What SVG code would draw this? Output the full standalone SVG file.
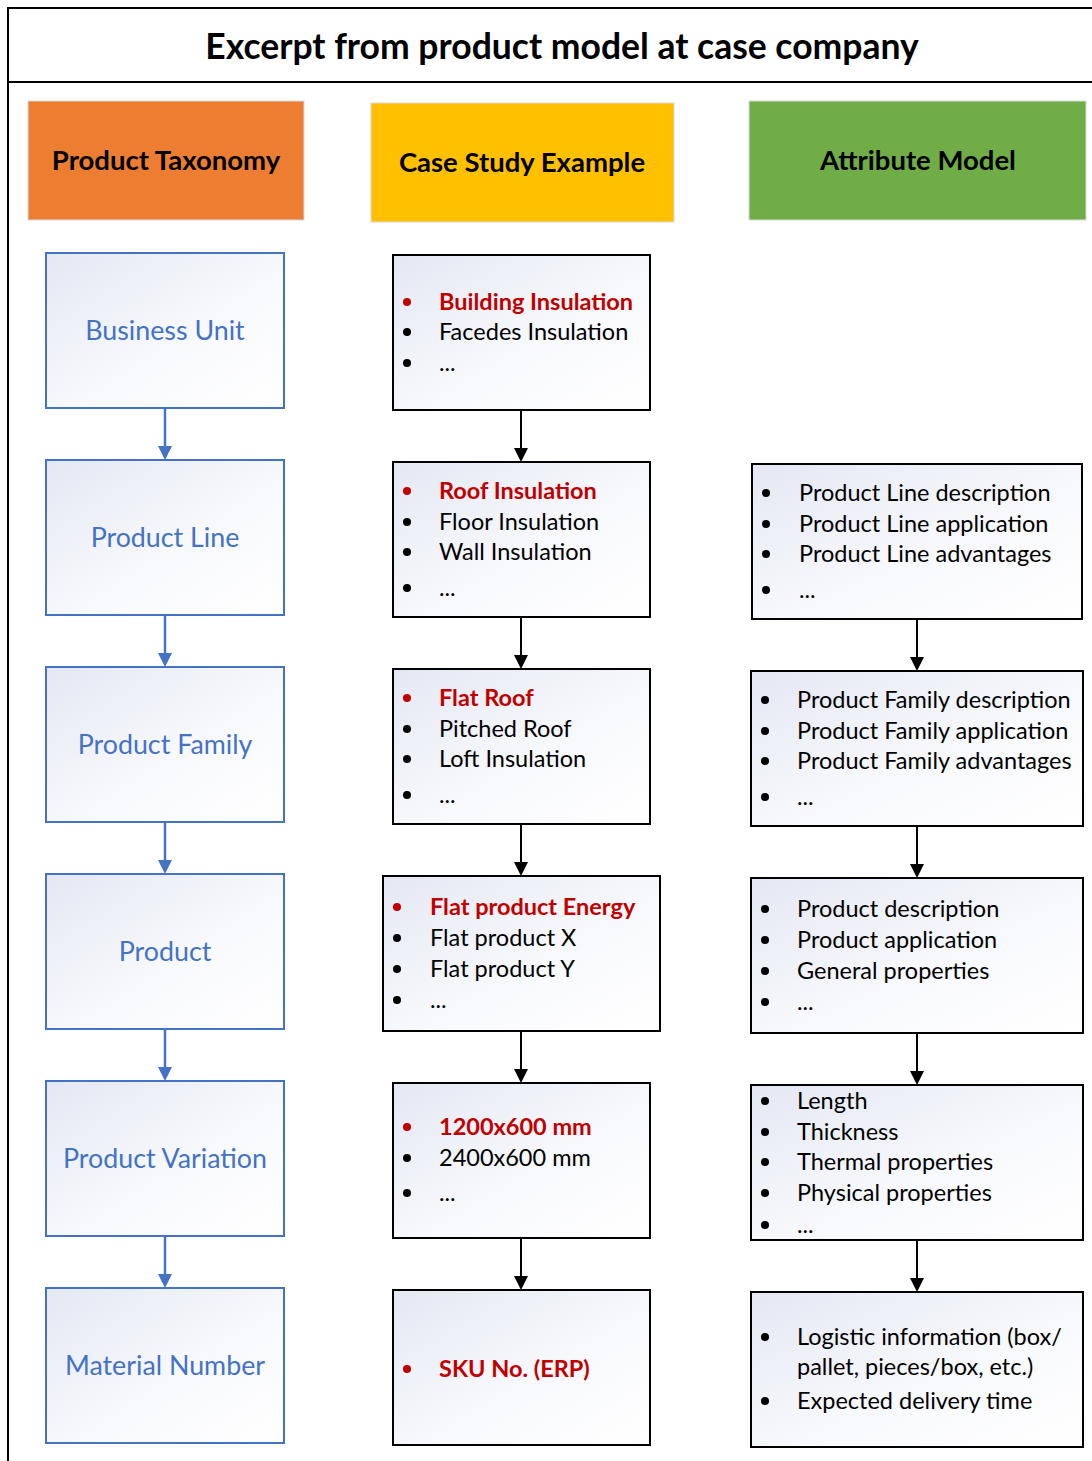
<svg xmlns="http://www.w3.org/2000/svg" width="1092" height="1461" viewBox="0 0 1092 1461">
<defs>
<linearGradient id="g" x1="0" y1="0" x2="1" y2="1">
<stop offset="0" stop-color="#E4E8F3"/>
<stop offset="0.6" stop-color="#F9FAFD"/>
<stop offset="1" stop-color="#FFFFFF"/>
</linearGradient>
</defs>
<style>
text{font-family:Lato,"Open Sans","Liberation Sans",sans-serif}
.title{font-size:35.5px;font-weight:bold;text-anchor:middle;fill:#000}
.hd{font-size:27.5px;font-weight:bold;text-anchor:middle;fill:#000}
.lbox{fill:url(#g);stroke:#4472C4;stroke-width:2}
.ltxt{font-size:26.8px;fill:#4472C4;text-anchor:middle}
.box{fill:url(#g);stroke:#000;stroke-width:2}
.t{font-size:23.5px;fill:#000}
.r{font-size:23.5px;fill:#C00000;font-weight:bold}
.b{fill:#000}
.br{fill:#C00000}
.bl{stroke:#4472C4;stroke-width:2.5}
.bk{stroke:#000;stroke-width:2}
.ahb{fill:#4472C4}
.ahk{fill:#000}
</style>
<rect x="0" y="0" width="1092" height="1461" fill="#fff"/>
<g id="frame">
<path d="M8 1461 V8 H1092" fill="none" stroke="#000" stroke-width="2"/>
<line x1="8" y1="82" x2="1092" y2="82" stroke="#000" stroke-width="2"/>
<text class="title" x="562" y="59">Excerpt from product model at case company</text>
</g>
<g id="hdr-taxonomy"><rect x="28" y="101" width="276" height="119" fill="#ED7D31" stroke="#D9D9D9" stroke-width="1"/><text class="hd" x="166" y="170">Product Taxonomy</text></g>
<g id="hdr-case"><rect x="371" y="103" width="303" height="119" fill="#FFC000" stroke="#D9D9D9" stroke-width="1"/><text class="hd" x="522" y="172">Case Study Example</text></g>
<g id="hdr-attr"><rect x="749" y="101" width="337" height="119" fill="#70AD47" stroke="#D9D9D9" stroke-width="1"/><text class="hd" x="918" y="170">Attribute Model</text></g>

<g id="n-bu"><rect class="lbox" x="46" y="253" width="238" height="155"/><text class="ltxt" x="165" y="340">Business Unit</text></g>
<g id="n-pl"><rect class="lbox" x="46" y="460" width="238" height="155"/><text class="ltxt" x="165" y="547">Product Line</text></g>
<g id="n-pf"><rect class="lbox" x="46" y="667" width="238" height="155"/><text class="ltxt" x="165" y="754">Product Family</text></g>
<g id="n-p"><rect class="lbox" x="46" y="874" width="238" height="155"/><text class="ltxt" x="165" y="961">Product</text></g>
<g id="n-pv"><rect class="lbox" x="46" y="1081" width="238" height="155"/><text class="ltxt" x="165" y="1168">Product Variation</text></g>
<g id="n-mn"><rect class="lbox" x="46" y="1288" width="238" height="155"/><text class="ltxt" x="165" y="1375">Material Number</text></g>

<g id="c1"><rect class="box" x="393" y="255" width="257" height="155"/>
<circle class="br" cx="407" cy="302" r="4"/><text class="r" x="439" y="310">Building Insulation</text>
<circle class="b" cx="407" cy="332" r="4"/><text class="t" x="439" y="340">Facedes Insulation</text>
<circle class="b" cx="407" cy="363" r="4"/><text class="t" x="439" y="371">...</text></g>
<g id="c2"><rect class="box" x="393" y="462" width="257" height="155"/>
<circle class="br" cx="407" cy="491" r="4"/><text class="r" x="439" y="499">Roof Insulation</text>
<circle class="b" cx="407" cy="522" r="4"/><text class="t" x="439" y="530">Floor Insulation</text>
<circle class="b" cx="407" cy="552" r="4"/><text class="t" x="439" y="560">Wall Insulation</text>
<circle class="b" cx="407" cy="588" r="4"/><text class="t" x="439" y="596">...</text></g>
<g id="c3"><rect class="box" x="393" y="669" width="257" height="155"/>
<circle class="br" cx="407" cy="698" r="4"/><text class="r" x="439" y="706">Flat Roof</text>
<circle class="b" cx="407" cy="729" r="4"/><text class="t" x="439" y="737">Pitched Roof</text>
<circle class="b" cx="407" cy="759" r="4"/><text class="t" x="439" y="767">Loft Insulation</text>
<circle class="b" cx="407" cy="795" r="4"/><text class="t" x="439" y="803">...</text></g>
<g id="c4"><rect class="box" x="383" y="876" width="277" height="155"/>
<circle class="br" cx="397" cy="907" r="4"/><text class="r" x="430" y="915">Flat product Energy</text>
<circle class="b" cx="397" cy="938" r="4"/><text class="t" x="430" y="946">Flat product X</text>
<circle class="b" cx="397" cy="969" r="4"/><text class="t" x="430" y="977">Flat product Y</text>
<circle class="b" cx="397" cy="1000" r="4"/><text class="t" x="430" y="1008">...</text></g>
<g id="c5"><rect class="box" x="393" y="1083" width="257" height="155"/>
<circle class="br" cx="407" cy="1127" r="4"/><text class="r" x="439" y="1135">1200x600 mm</text>
<circle class="b" cx="407" cy="1158" r="4"/><text class="t" x="439" y="1166">2400x600 mm</text>
<circle class="b" cx="407" cy="1193" r="4"/><text class="t" x="439" y="1201">...</text></g>
<g id="c6"><rect class="box" x="393" y="1290" width="257" height="155"/>
<circle class="br" cx="407" cy="1369" r="4"/><text class="r" x="439" y="1377">SKU No. (ERP)</text></g>

<g id="a1"><rect class="box" x="752" y="464" width="330" height="155"/>
<circle class="b" cx="766" cy="493" r="4"/><text class="t" x="799" y="501">Product Line description</text>
<circle class="b" cx="766" cy="524" r="4"/><text class="t" x="799" y="532">Product Line application</text>
<circle class="b" cx="766" cy="554" r="4"/><text class="t" x="799" y="562">Product Line advantages</text>
<circle class="b" cx="766" cy="590" r="4"/><text class="t" x="799" y="598">...</text></g>
<g id="a2"><rect class="box" x="751" y="671" width="332" height="155"/>
<circle class="b" cx="765" cy="700" r="4"/><text class="t" x="797" y="708">Product Family description</text>
<circle class="b" cx="765" cy="731" r="4"/><text class="t" x="797" y="739">Product Family application</text>
<circle class="b" cx="765" cy="761" r="4"/><text class="t" x="797" y="769">Product Family advantages</text>
<circle class="b" cx="765" cy="797" r="4"/><text class="t" x="797" y="805">...</text></g>
<g id="a3"><rect class="box" x="751" y="878" width="332" height="155"/>
<circle class="b" cx="765" cy="909" r="4"/><text class="t" x="797" y="917">Product description</text>
<circle class="b" cx="765" cy="940" r="4"/><text class="t" x="797" y="948">Product application</text>
<circle class="b" cx="765" cy="971" r="4"/><text class="t" x="797" y="979">General properties</text>
<circle class="b" cx="765" cy="1002" r="4"/><text class="t" x="797" y="1010">...</text></g>
<g id="a4"><rect class="box" x="751" y="1085" width="332" height="155"/>
<circle class="b" cx="765" cy="1101" r="4"/><text class="t" x="797" y="1109">Length</text>
<circle class="b" cx="765" cy="1132" r="4"/><text class="t" x="797" y="1140">Thickness</text>
<circle class="b" cx="765" cy="1162" r="4"/><text class="t" x="797" y="1170">Thermal properties</text>
<circle class="b" cx="765" cy="1193" r="4"/><text class="t" x="797" y="1201">Physical properties</text>
<circle class="b" cx="765" cy="1225" r="4"/><text class="t" x="797" y="1233">...</text></g>
<g id="a5"><rect class="box" x="751" y="1292" width="332" height="155"/>
<circle class="b" cx="765" cy="1337" r="4"/><text class="t" x="797" y="1345">Logistic information (box/</text>
<text class="t" x="797" y="1375">pallet, pieces/box, etc.)</text>
<circle class="b" cx="765" cy="1401" r="4"/><text class="t" x="797" y="1409">Expected delivery time</text></g>

<g id="connectors">
<line class="bl" x1="165" y1="408" x2="165" y2="447"/><path class="ahb" d="M158 446 L172 446 L165 460 Z"/>
<line class="bl" x1="165" y1="615" x2="165" y2="654"/><path class="ahb" d="M158 653 L172 653 L165 667 Z"/>
<line class="bl" x1="165" y1="822" x2="165" y2="861"/><path class="ahb" d="M158 860 L172 860 L165 874 Z"/>
<line class="bl" x1="165" y1="1029" x2="165" y2="1068"/><path class="ahb" d="M158 1067 L172 1067 L165 1081 Z"/>
<line class="bl" x1="165" y1="1236" x2="165" y2="1275"/><path class="ahb" d="M158 1274 L172 1274 L165 1288 Z"/>

<line class="bk" x1="521" y1="410" x2="521" y2="449"/><path class="ahk" d="M514 448 L528 448 L521 462 Z"/>
<line class="bk" x1="521" y1="617" x2="521" y2="656"/><path class="ahk" d="M514 655 L528 655 L521 669 Z"/>
<line class="bk" x1="521" y1="824" x2="521" y2="863"/><path class="ahk" d="M514 862 L528 862 L521 876 Z"/>
<line class="bk" x1="521" y1="1031" x2="521" y2="1070"/><path class="ahk" d="M514 1069 L528 1069 L521 1083 Z"/>
<line class="bk" x1="521" y1="1238" x2="521" y2="1277"/><path class="ahk" d="M514 1276 L528 1276 L521 1290 Z"/>

<line class="bk" x1="917" y1="619" x2="917" y2="658"/><path class="ahk" d="M910 657 L924 657 L917 671 Z"/>
<line class="bk" x1="917" y1="826" x2="917" y2="865"/><path class="ahk" d="M910 864 L924 864 L917 878 Z"/>
<line class="bk" x1="917" y1="1033" x2="917" y2="1072"/><path class="ahk" d="M910 1071 L924 1071 L917 1085 Z"/>
<line class="bk" x1="917" y1="1240" x2="917" y2="1279"/><path class="ahk" d="M910 1278 L924 1278 L917 1292 Z"/>
</g>
</svg>
